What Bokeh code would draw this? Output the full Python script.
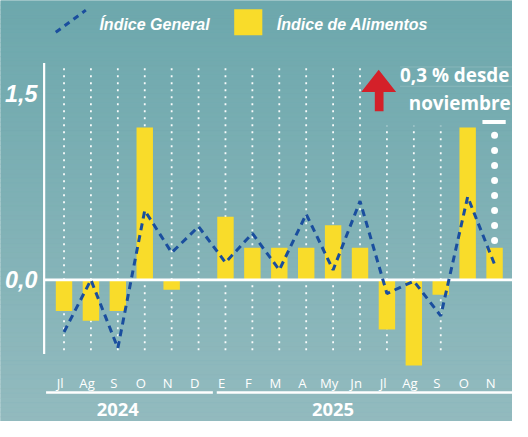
import numpy as np
from bokeh.plotting import figure
from bokeh.models import Range1d
from bokeh.core.properties import value
from bokeh.embed import file_html
from bokeh.resources import INLINE

# ---------------- data ----------------
months = ["Jl", "Ag", "S", "O", "N", "D", "E", "F", "M", "A", "My", "Jn",
          "Jl", "Ag", "S", "O", "N"]
years = ["2024", "2025"]
year_label_month = [2, 10]          # month index under which each year label sits
food_index = [-0.25, -0.33, -0.25, 1.23, -0.08, 0.0, 0.51, 0.26, 0.26, 0.26,
              0.44, 0.26, -0.40, -0.69, -0.12, 1.23, 0.26]
general_index = [-0.42, 0.0, -0.55, 0.56, 0.22, 0.43, 0.14, 0.375, 0.08, 0.53,
                 0.08, 0.635, -0.11, -0.01, -0.29, 0.67, 0.125]
y_ticks = [0.0, 1.5]
y_tick_labels = ["0,0", "1,5"]
annotation = ["0,3 % desde", "noviembre"]

idx = list(range(len(months)))

# ---------------- layout helpers (reference pixel -> data) ----------------
W, H = 512, 421
RW, RH = 528, 437
S = W / RW
X0, DX = 65.5, 27.75
Y0, DY = 290.0, 128.7


def X(px):
    return (px - X0) / DX


def Y(py):
    return (Y0 - py) / DY


def fs(px):
    return f"{px * S:.1f}px"


p = figure(width=W, height=H, x_range=Range1d(X(0), X(RW)), y_range=Range1d(Y(RH), Y(0)),
           output_backend="svg", toolbar_location=None, min_border=0,
           x_axis_type=None, y_axis_type=None, outline_line_color=None,
           background_fill_color="#80b1b5", border_fill_color="#80b1b5")
p.grid.visible = False

# background gradient
top_c = np.array([109, 168, 173])
bot_c = np.array([147, 187, 191])
nb = 90
edges = np.linspace(0, RH, nb + 1)
cols = []
for k in range(nb):
    t = (k + 0.5) / nb
    c = (top_c * (1 - t) + bot_c * t).astype(int)
    cols.append("#%02x%02x%02x" % tuple(c))
p.quad(left=X(0), right=X(RW), top=[Y(e) for e in edges[:-1]],
       bottom=[Y(e) for e in edges[1:]], fill_color=cols, line_color=cols, line_width=0.5)

# dotted vertical guides
full_guides = list(range(12))
short_guides = [12, 13, 14]
p.segment(x0=full_guides, x1=full_guides, y0=Y(363), y1=Y(67),
          line_color="white", line_width=1.8, line_dash=value("2 5"), line_alpha=0.95)
p.segment(x0=short_guides, x1=short_guides, y0=Y(363), y1=Y(130),
          line_color="white", line_width=1.8, line_dash=value("2 5"), line_alpha=0.95)

# bars
p.vbar(x=idx, top=food_index, bottom=0, width=0.61, fill_color="#F9DC2A", line_color=None)

# axis line + zero line
p.segment(x0=[X(45)], x1=[X(45)], y0=[Y(65)], y1=[Y(367)], line_color="white", line_width=2.2)
p.segment(x0=[X(45)], x1=[X(RW)], y0=[0], y1=[0], line_color="white", line_width=2.7)

# general index line
p.line(idx, general_index, line_color="#1A4E9E", line_width=3, line_dash="7 5")

# y labels
cond_font = value("Liberation Sans")
p.text(x=X(38), y=y_ticks, text=y_tick_labels, text_font=cond_font, text_font_size=fs(24),
       text_font_style="bold italic", text_color="white", text_align="right",
       text_baseline="middle")

# month labels
p.text(x=idx, y=Y(397), text=months, x_offset=-4 * S, text_font=value("Open Sans"),
       text_font_size=fs(13.5), text_color="white", text_align="center",
       text_baseline="middle")

# year underline and years
p.segment(x0=[X(47), X(223)], x1=[X(219), X(RW)], y0=[Y(407)] * 2, y1=[Y(407)] * 2,
          line_color="white", line_width=2.5)
p.text(x=year_label_month, y=Y(425), text=years, text_font=value("Open Sans"),
       text_font_size=fs(19), text_font_style="bold", text_color="white",
       text_align="center", text_baseline="middle")

# annotation: red arrow, text, dotted bracket
ax = [386, 386, 372, 390, 408, 395, 395]
ay = [115, 95, 95, 72, 95, 95, 115]
p.patch([X(a) for a in ax], [Y(b) for b in ay], fill_color="#D42029", line_color=None)
p.segment(x0=[X(412)] * 2, x1=[X(RW)] * 2, y0=[Y(69), Y(89)], y1=[Y(69), Y(89)],
          line_color="white", line_alpha=0.15, line_width=1)
p.text(x=[X(412), X(421)], y=[Y(77), Y(106)], text=annotation, text_font=value("Open Sans"),
       text_font_size=fs(19.5), text_font_style="bold", text_color="white",
       text_align="left", text_baseline="middle")
dot_y = np.linspace(140, 249, 8)
p.scatter(x=[16] * len(dot_y), y=[Y(v) for v in dot_y], size=7, fill_color="white",
          line_color=None)
p.segment(x0=[X(497)], x1=[X(521)], y0=[Y(126)], y1=[Y(126)], line_color="white", line_width=4)

# legend
p.line([X(57), X(88)], [Y(33), Y(10)], line_color="#1A4E9E", line_width=3, line_dash="6 5")
p.quad(left=[X(241)], right=[X(270)], top=[Y(9)], bottom=[Y(36)], fill_color="#F9DC2A",
       line_color=None)
p.text(x=[X(102), X(285)], y=[Y(25), Y(25)], text=["Índice General", "Índice de Alimentos"],
       text_font=cond_font, text_font_size=fs(16.5), text_font_style="bold italic",
       text_color="white", text_align="left", text_baseline="middle")

open("out.html", "w").write(file_html(p, INLINE))
